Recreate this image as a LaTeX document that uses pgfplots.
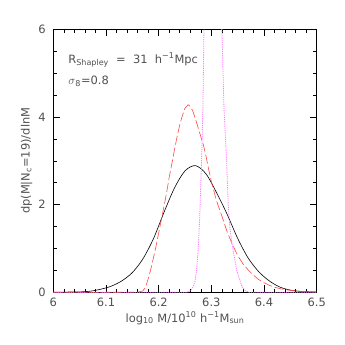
\documentclass[border=0pt]{standalone}
\usepackage{pgfplots}
\pgfplotsset{compat=1.18}
\usepackage{fontspec}
\setmainfont{DejaVu Sans}
\definecolor{txt}{RGB}{80,80,80}
\definecolor{redc}{RGB}{255,70,70}
\definecolor{magc}{RGB}{255,120,255}

\begin{document}
\begin{tikzpicture}
\path[use as bounding box] (-53.3bp,-52.7bp) rectangle (291.7bp,292.3bp);
\begin{axis}[
  at={(0,0)}, anchor=south west,
  width=263.4bp, height=263bp, scale only axis,
  xmin=6, xmax=6.5, ymin=0, ymax=6,
  xtick={6,6.1,6.2,6.3,6.4,6.5},
  ytick={0,2,4,6},
  minor x tick num=4, minor y tick num=3,
  tick align=inside, tick pos=both,
  major tick length=7bp, minor tick length=3.5bp,
  every tick/.style={black, line width=0.5pt},
  axis line style={line width=0.6pt},
  /pgf/number format/assume math mode=true,
  tick label style={font=\fontsize{11.5}{13}\selectfont, text=txt},
  label style={font=\fontsize{11.5}{13}\selectfont, text=txt},
  xticklabel style={yshift=-2bp},
  yticklabel style={xshift=-4bp},
  xlabel={log\textsubscript{10} M/10\textsuperscript{10} h\textsuperscript{−1}M\textsubscript{sun}},
  ylabel={dp(M|N\textsubscript{c}=19)/dlnM},
  xlabel style={at={(axis description cs:0.5,-0.113)}, anchor=base},
  ylabel style={at={(axis description cs:-0.09,0.5)}, anchor=base},
]

% black solid
\addplot[black, line width=0.6pt, smooth] coordinates {
  (6.00,0.002) (6.05,0.01) (6.07,0.025) (6.09,0.07) (6.11,0.14) (6.13,0.26)
  (6.15,0.45) (6.17,0.76) (6.19,1.22) (6.21,1.82) (6.23,2.38) (6.25,2.77)
  (6.27,2.89) (6.29,2.70) (6.31,2.27) (6.33,1.78) (6.35,1.23) (6.37,0.78)
  (6.39,0.47) (6.41,0.26) (6.43,0.12) (6.45,0.05) (6.47,0.02) (6.50,0.005)
};

% red dashed
\addplot[redc, line width=0.6pt, dash pattern=on 9bp off 3bp] coordinates {
  (6.00,0) (6.10,0) (6.16,0.005) (6.17,0.03) (6.175,0.12) (6.18,0.3)
  (6.185,0.52) (6.19,0.78) (6.195,1.05) (6.20,1.35) (6.205,1.65) (6.21,1.95)
  (6.215,2.27) (6.22,2.62) (6.225,2.93) (6.23,3.25) (6.235,3.55) (6.24,3.82)
  (6.245,4.03) (6.25,4.2) (6.256,4.28) (6.26,4.24) (6.265,4.13) (6.27,3.95)
  (6.275,3.75) (6.28,3.55) (6.285,3.36) (6.29,3.1) (6.295,2.8) (6.30,2.53)
  (6.31,2.08) (6.32,1.74) (6.33,1.38) (6.34,1.09) (6.35,0.84) (6.36,0.65)
  (6.37,0.51) (6.38,0.39) (6.39,0.29) (6.40,0.22) (6.41,0.16) (6.42,0.115)
  (6.43,0.085) (6.44,0.06) (6.45,0.045) (6.47,0.02) (6.50,0.008)
};

% magenta dotted
\addplot[magc, line width=0.8pt, dash pattern=on 1.2bp off 1bp] coordinates {
  (6.00,0) (6.20,0) (6.25,0) (6.255,0.005) (6.262,0.05) (6.266,0.15)
  (6.269,0.25) (6.272,0.51) (6.275,0.97) (6.278,1.73) (6.282,3.25)
  (6.284,4.2) (6.286,6.0) (6.29,8.3) (6.295,10.6) (6.3025,12.1) (6.31,10.9)
  (6.315,8.9) (6.32,6.0) (6.324,4.2) (6.329,3.0) (6.332,2.0) (6.335,1.5)
  (6.339,1.12) (6.348,0.51) (6.358,0.13) (6.365,0.03) (6.372,0) (6.50,0)
};

\node[anchor=base west, font=\fontsize{11.5}{13}\selectfont, text=txt]
  at (axis description cs:0.044,0.871)
  {R\textsubscript{Shapley}\ \ =\ \ 31\ \ h\textsuperscript{−1}Mpc};
\node[anchor=base west, font=\fontsize{11.5}{13}\selectfont, text=txt]
  at (axis description cs:0.044,0.791)
  {$\sigma$\textsubscript{8}=0.8};

\end{axis}
\end{tikzpicture}
\end{document}
